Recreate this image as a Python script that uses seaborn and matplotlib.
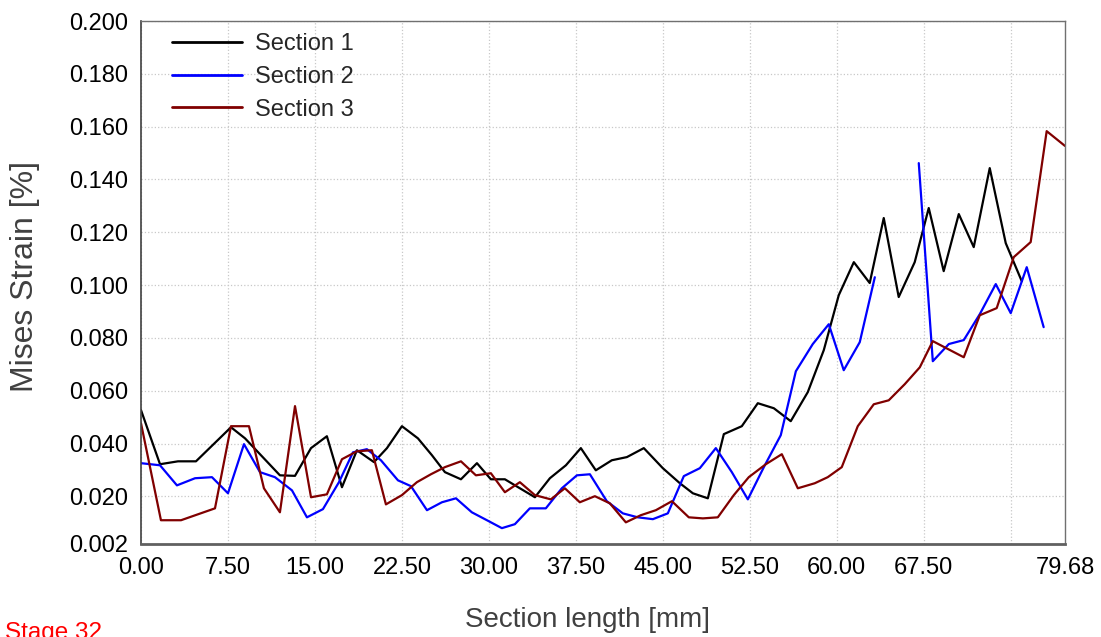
import matplotlib
matplotlib.use("Agg")
import matplotlib.pyplot as plt
from matplotlib.ticker import MultipleLocator
import pandas as pd
import seaborn as sns

# values (x in mm, strain in %)
sec1_x = [0.00, 1.64, 3.19, 4.74, 7.76, 8.97, 11.98, 13.28, 14.66, 16.03, 17.33, 18.62, 20.09, 21.21,
          22.50, 23.88, 25.09, 26.21, 27.59, 28.97, 30.17, 31.38, 32.67, 33.97, 35.26, 36.64, 37.93,
          39.22, 40.60, 41.90, 43.36, 45.00, 46.47, 47.59, 48.88, 50.26, 51.81, 53.19, 54.57, 56.03,
          57.50, 58.88, 60.17, 61.47, 62.84, 64.05, 65.34, 66.72, 67.93, 69.22, 70.52, 71.81, 73.19,
          74.57, 75.95]
sec1_y = [0.0527, 0.0322, 0.0333, 0.0333, 0.0462, 0.0420, 0.0280, 0.0278, 0.0383, 0.0428, 0.0235,
          0.0375, 0.0330, 0.0383, 0.0466, 0.0420, 0.0356, 0.0292, 0.0265, 0.0326, 0.0265, 0.0265,
          0.0231, 0.0197, 0.0269, 0.0318, 0.0383, 0.0299, 0.0337, 0.0349, 0.0383, 0.0307, 0.0250,
          0.0212, 0.0193, 0.0436, 0.0466, 0.0553, 0.0534, 0.0485, 0.0595, 0.0754, 0.0962, 0.1087,
          0.1008, 0.1254, 0.0955, 0.1087, 0.1292, 0.1053, 0.1269, 0.1144, 0.1443, 0.1159, 0.1015]

sec2_x = [0.00, 1.64, 3.10, 4.66, 6.12, 7.50, 8.88, 10.26, 11.55, 13.02, 14.31, 15.69, 17.07, 18.28,
          19.48, 20.69, 22.16, 23.28, 24.66, 25.95, 27.16, 28.53, 29.83, 31.12, 32.24, 33.53, 34.91,
          36.29, 37.59, 38.71, 40.17, 41.55, 42.84, 44.14, 45.43, 46.81, 48.19, 49.57, 50.95, 52.33,
          53.71, 55.17, 56.47, 57.93, 59.31, 60.60, 61.98, 63.28,
          67.07, 68.28, 69.66, 70.95, 72.33, 73.71, 75.00, 76.38, 77.84]
sec2_y = [0.0326, 0.0318, 0.0242, 0.0269, 0.0273, 0.0212, 0.0398, 0.0292, 0.0273, 0.0223, 0.0121,
          0.0152, 0.0254, 0.0367, 0.0379, 0.0337, 0.0261, 0.0239, 0.0148, 0.0178, 0.0193, 0.0140,
          0.0110, 0.0080, 0.0095, 0.0155, 0.0155, 0.0231, 0.0280, 0.0284, 0.0182, 0.0136, 0.0121,
          0.0114, 0.0136, 0.0277, 0.0307, 0.0383, 0.0292, 0.0189, 0.0311, 0.0432, 0.0674, 0.0777,
          0.0852, 0.0678, 0.0784, 0.1030,
          0.1462, 0.0712, 0.0777, 0.0792, 0.0890, 0.1004, 0.0894, 0.1068, 0.0841]
# section 2 has a gap in the data between ~63 and ~67 mm
sec2_part = [1] * 48 + [2] * 9

sec3_x = [0.00, 1.72, 3.45, 6.38, 7.76, 9.31, 10.60, 11.98, 13.28, 14.66, 16.03, 17.33, 18.62, 19.91,
          21.12, 22.50, 23.79, 25.00, 26.21, 27.59, 28.88, 30.17, 31.38, 32.67, 33.97, 35.34, 36.55,
          37.84, 39.14, 40.43, 41.81, 43.10, 44.40, 45.78, 47.24, 48.45, 49.74, 51.12, 52.41, 53.88,
          55.26, 56.64, 58.10, 59.22, 60.43, 61.81, 63.19, 64.48, 65.86, 67.16, 68.28, 70.95, 72.33,
          73.79, 75.26, 76.72, 78.10, 79.68]
sec3_y = [0.0477, 0.0110, 0.0110, 0.0155, 0.0466, 0.0466, 0.0231, 0.0140, 0.0542, 0.0197, 0.0208,
          0.0341, 0.0371, 0.0375, 0.0170, 0.0205, 0.0254, 0.0284, 0.0311, 0.0333, 0.0280, 0.0288,
          0.0216, 0.0254, 0.0205, 0.0189, 0.0231, 0.0178, 0.0201, 0.0174, 0.0102, 0.0129, 0.0148,
          0.0182, 0.0121, 0.0117, 0.0121, 0.0205, 0.0273, 0.0322, 0.0360, 0.0231, 0.0250, 0.0273,
          0.0311, 0.0466, 0.0549, 0.0564, 0.0625, 0.0689, 0.0788, 0.0727, 0.0886, 0.0913, 0.1106,
          0.1163, 0.1583, 0.1527]

x_ticks = [0.0, 7.5, 15.0, 22.5, 30.0, 37.5, 45.0, 52.5, 60.0, 67.5, 79.68]
y_ticks = [0.002, 0.020, 0.040, 0.060, 0.080, 0.100, 0.120, 0.140, 0.160, 0.180, 0.200]
colors = {"Section 1": "#000000", "Section 2": "#0000ff", "Section 3": "#800000"}

df = pd.concat([
    pd.DataFrame({"length": sec1_x, "strain": sec1_y, "section": "Section 1", "part": 1}),
    pd.DataFrame({"length": sec2_x, "strain": sec2_y, "section": "Section 2", "part": sec2_part}),
    pd.DataFrame({"length": sec3_x, "strain": sec3_y, "section": "Section 3", "part": 1}),
], ignore_index=True)

sns.set_style("white")
plt.rcParams["font.family"] = ["Liberation Sans", "DejaVu Sans"]

W, H = 1101, 637
fig = plt.figure(figsize=(W / 100, H / 100), dpi=100)
ax = fig.add_axes([141 / W, 1 - 544 / H, (1065 - 141) / W, (544 - 21) / H])

sns.lineplot(data=df, x="length", y="strain", hue="section", units="part", estimator=None,
             sort=False, palette=colors, linewidth=1.6, ax=ax)

ax.set_xlim(0, 79.68)
ax.set_ylim(0.002, 0.200)
ax.set_xticks(x_ticks)
ax.set_xticklabels([f"{t:.2f}" for t in x_ticks])
ax.set_yticks(y_ticks)
ax.set_yticklabels([f"{t:.3f}" for t in y_ticks])

# dotted grid every 7.5 mm / 0.02 %, independent from the labelled ticks
ax.xaxis.remove_overlapping_locs = False
ax.yaxis.remove_overlapping_locs = False
ax.xaxis.set_minor_locator(MultipleLocator(7.5))
ax.yaxis.set_minor_locator(MultipleLocator(0.02))
ax.grid(which="minor", linestyle=":", color="#c8c8c8", linewidth=0.9)
ax.grid(which="major", visible=False)
ax.tick_params(which="minor", length=0)
ax.tick_params(which="major", length=6, width=1, color="#555555", labelsize=17,
               labelcolor="black", direction="out", pad=3)

for side in ["top", "right"]:
    ax.spines[side].set_color("#707070")
    ax.spines[side].set_linewidth(1.0)
ax.spines["left"].set_color("#404040")
ax.spines["left"].set_linewidth(1.2)
ax.spines["bottom"].set_color("#606060")
ax.spines["bottom"].set_linewidth(2.0)

ax.set_xlabel("Section length [mm]", fontsize=20, color="#404040")
ax.set_ylabel("Mises Strain [%]", fontsize=23, color="#404040")
ax.xaxis.label.set_va("center")
ax.yaxis.label.set_va("center")
ax.xaxis.set_label_coords(0.483, -0.145)
ax.yaxis.set_label_coords(-0.1255, 0.512)

leg = ax.legend(loc="upper left", bbox_to_anchor=(0.0335, 0.977), frameon=False, fontsize=17,
                handlelength=2.96, handletextpad=0.55, labelspacing=0.46, borderpad=0,
                borderaxespad=0)
for line in leg.get_lines():
    line.set_linewidth(2.0)

fig.text(5 / W, 1 - 622 / H, "Stage 32", color="red", fontsize=17.5, va="top", ha="left")

fig.savefig("out.png", dpi=100)
